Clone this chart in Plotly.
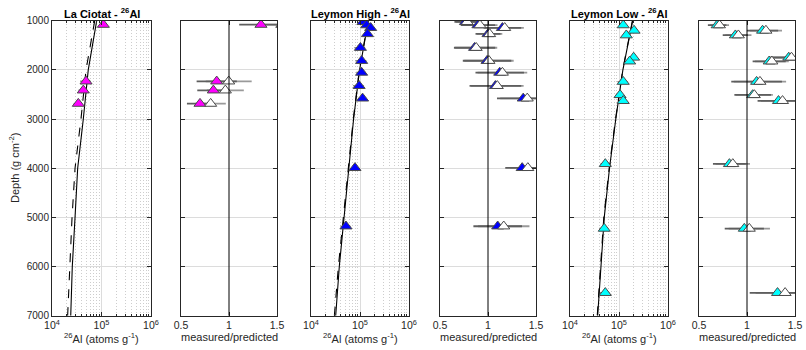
import plotly.graph_objects as go

W, H = 806, 350

# ---------------- data ----------------
depth_grid = [1000, 2000, 3000, 4000, 5000, 6000, 7000]

# La Ciotat
lc_depth = [1081, 2233, 2416, 2687]
lc_conc = [1.09e5, 4.87e4, 4.29e4, 3.40e4]
lc_rel = [0.17, 0.24, 0.20, 0.195]
lc_ratio_a = [1.333, 0.872, 0.837, 0.698]
lc_ratio_b = [1.55, 0.997, 0.962, 0.809]
lc_solid = [8.0e4, 5.4e4, 4.29e4, 3.3e4, 2.92e4, 2.57e4, 2.39e4]
lc_dash = [7.3e4, 4.87e4, 3.85e4, 2.92e4, 2.54e4, 2.27e4, 2.07e4]

# Leymon High
lh_depth = [1025, 1090, 1145, 1270, 1550, 1815, 2055, 2325, 2580, 3994, 5181]
lh_conc = [1.15e5, 1.37e5, 1.65e5, 1.42e5, 1.02e5, 1.08e5, 1.08e5, 9.6e4, 1.13e5, 7.9e4, 5.17e4]
lh_rel = [0.15, 0.20, 0.17, 0.13, 0.25, 0.255, 0.225, 0.25, 0.20, 0.13, 0.23]
lh_ratio_a = [0.765, 0.895, 1.15, 1.0, 0.86, 0.99, 1.122, 1.077, 1.367, 1.356, 1.101]
lh_ratio_b = [0.783, 0.916, 1.174, 1.017, 0.877, 1.01, 1.15, 1.097, 1.409, 1.415, 1.164]
lh_solid = [1.48e5, 9.8e4, 7.4e4, 5.9e4, 4.68e4, 3.78e4, 3.19e4]
lh_dash = [1.46e5, 9.7e4, 7.3e4, 5.8e4, 4.58e4, 3.62e4, 3.0e4]

# Leymon Low
ll_depth = [1090, 1200, 1295, 1748, 1826, 2240, 2510, 2630, 3913, 5228, 6535]
ll_conc = [1.22e5, 2.03e5, 1.41e5, 1.99e5, 1.65e5, 1.22e5, 1.05e5, 1.22e5, 5.25e4, 5.0e4, 5.25e4]
ll_rel = [0.14, 0.14, 0.15, 0.144, 0.14, 0.24, 0.18, 0.164, 0.21, 0.21, 0.22]
ll_ratio_a = [0.689, 1.162, 0.879, 1.435, 1.231, 1.10, 1.059, 1.328, 0.817, 0.972, 1.318]
ll_ratio_b = [0.713, 1.197, 0.91, 1.463, 1.259, 1.135, 1.076, 1.37, 0.852, 1.024, 1.397]
ll_solid = [1.9e5, 1.2e5, 8.6e4, 6.4e4, 5.0e4, 4.3e4, 3.67e4]
ll_dash = [1.88e5, 1.19e5, 8.5e4, 6.3e4, 4.9e4, 4.2e4, 3.6e4]

titles = ["La Ciotat - <sup>26</sup>Al", "Leymon High - <sup>26</sup>Al", "Leymon Low - <sup>26</sup>Al"]
fill_colors = ["#ff00ff", "#0000ff", "#00ffff"]

log_ticks = [1e4, 1e5, 1e6]
log_ticktext = ["10<sup>4</sup>", "10<sup>5</sup>", "10<sup>6</sup>"]
log_minor = [m * 10 ** e for e in (4, 5) for m in range(2, 10)]
ratio_ticks = [0.5, 1, 1.5]
ratio_ticktext = ["0.5", "1", "1.5"]
depth_ticks = [1000, 2000, 3000, 4000, 5000, 6000, 7000]
depth_ticktext = ["1000", "2000", "3000", "4000", "5000", "6000", "7000"]

# ---------------- layout geometry (pixels) ----------------
panels_px = [(52, 151), (181, 277), (311, 409), (440, 536), (570, 668), (699, 795)]
y_top, y_bot = 20.7, 315.7
ydom = [1 - y_bot / H, 1 - y_top / H]

FONT = "Liberation Sans, Arial, Helvetica, sans-serif"
TXT = "#262626"
AX = "#262626"
GRID = "#dcdcdc"
MINOR_GRID = "#cdcdcd"

fig = go.Figure()

sites = [
    (lc_depth, lc_conc, lc_rel, lc_ratio_a, lc_ratio_b, lc_solid, lc_dash),
    (lh_depth, lh_conc, lh_rel, lh_ratio_a, lh_ratio_b, lh_solid, lh_dash),
    (ll_depth, ll_conc, ll_rel, ll_ratio_a, ll_ratio_b, ll_solid, ll_dash),
]

tri = dict(symbol="triangle-up", size=10.5, line=dict(color="#4a4a4a", width=1))

for i, (dep, conc, rel, ra, rb, sol, dsh) in enumerate(sites):
    xa = f"x{2*i+1}" if i > 0 else "x"
    ya = f"y{2*i+1}" if i > 0 else "y"
    xr = f"x{2*i+2}"
    yr = f"y{2*i+2}"
    # model lines
    fig.add_trace(go.Scatter(x=dsh, y=depth_grid, mode="lines", xaxis=xa, yaxis=ya,
                             line=dict(color="black", width=1.1, dash="dash"), showlegend=False))
    fig.add_trace(go.Scatter(x=sol, y=depth_grid, mode="lines", xaxis=xa, yaxis=ya,
                             line=dict(color="black", width=1.1), showlegend=False))
    # measured concentrations
    err = [c * r for c, r in zip(conc, rel)]
    fig.add_trace(go.Scatter(x=conc, y=dep, mode="markers", xaxis=xa, yaxis=ya,
                             marker=dict(color=fill_colors[i], **tri),
                             error_x=dict(type="data", array=err, color="#8a8a8a", thickness=1.5, width=0),
                             showlegend=False))
    # ratio error bars
    ea = [v * r for v, r in zip(ra, rel)]
    eb = [v * r for v, r in zip(rb, rel)]
    fig.add_trace(go.Scatter(x=rb, y=dep, mode="markers", xaxis=xr, yaxis=yr,
                             marker=dict(size=1, color="rgba(0,0,0,0)"),
                             error_x=dict(type="data", array=eb, color="#9a9a9a", thickness=1.8, width=0),
                             showlegend=False))
    fig.add_trace(go.Scatter(x=ra, y=dep, mode="markers", xaxis=xr, yaxis=yr,
                             marker=dict(size=1, color="rgba(0,0,0,0)"),
                             error_x=dict(type="data", array=ea, color="#5e5e5e", thickness=1.8, width=0),
                             showlegend=False))
    fig.add_trace(go.Scatter(x=ra, y=dep, mode="markers", xaxis=xr, yaxis=yr,
                             marker=dict(color=fill_colors[i], **tri), showlegend=False))
    fig.add_trace(go.Scatter(x=rb, y=dep, mode="markers", xaxis=xr, yaxis=yr,
                             marker=dict(color="white", **tri), showlegend=False))
    # reference line at ratio = 1
    fig.add_shape(type="line", xref=xr, yref=f"{yr} domain", x0=1, x1=1, y0=0, y1=1,
                  line=dict(color="black", width=1), layer="above")

layout = dict(
    width=W, height=H, margin=dict(l=0, r=0, t=0, b=0),
    paper_bgcolor="white", plot_bgcolor="white",
    font=dict(family=FONT, color=TXT, size=10),
    showlegend=False,
)

for k, (x0, x1) in enumerate(panels_px):
    n = k + 1
    xkey = "xaxis" if n == 1 else f"xaxis{n}"
    ykey = "yaxis" if n == 1 else f"yaxis{n}"
    anchor_y = "y" if n == 1 else f"y{n}"
    anchor_x = "x" if n == 1 else f"x{n}"
    dom = [x0 / W, x1 / W]
    if k % 2 == 0:
        layout[xkey] = dict(
            type="log", range=[4, 6], domain=dom, anchor=anchor_y,
            showline=True, linecolor=AX, linewidth=1, mirror="ticks",
            ticks="inside", ticklen=4, tickcolor=AX,
            tickmode="array", tickvals=log_ticks, ticktext=log_ticktext,
            showgrid=True, gridcolor=GRID, gridwidth=1, zeroline=False,
            minor=dict(tickmode="array", tickvals=log_minor, ticks="inside", ticklen=2, tickcolor=AX,
                       showgrid=True, gridcolor=MINOR_GRID, griddash="1px,2px", gridwidth=1),
            tickfont=dict(size=10.5, color=TXT), automargin=False,
        )
    else:
        layout[xkey] = dict(
            range=[0.5, 1.5], domain=dom, anchor=anchor_y,
            showline=True, linecolor=AX, linewidth=1, mirror="ticks",
            ticks="inside", ticklen=4, tickcolor=AX,
            tickmode="array", tickvals=ratio_ticks, ticktext=ratio_ticktext,
            showgrid=False, zeroline=False,
            tickfont=dict(size=10.5, color=TXT), automargin=False,
        )
    layout[ykey] = dict(
        range=[7000, 1000], domain=ydom, anchor=anchor_x,
        showline=True, linecolor=AX, linewidth=1, mirror="ticks",
        ticks="inside", ticklen=4, tickcolor=AX,
        tickmode="array", tickvals=depth_ticks,
        ticktext=depth_ticktext if n == 1 else [""] * len(depth_ticks),
        showticklabels=(n == 1),
        showgrid=True, gridcolor=GRID, gridwidth=1, zeroline=False,
        tickfont=dict(size=10, color=TXT), automargin=False,
    )

fig.update_layout(**layout)

annotations = []
for i, t in enumerate(titles):
    x0, x1 = panels_px[2 * i]
    annotations.append(dict(text=f"<b>{t}</b>", x=(x0 + x1) / 2 / W, y=1 - 13 / H,
                            xref="paper", yref="paper", showarrow=False,
                            xanchor="center", yanchor="middle",
                            font=dict(size=11, color="black", family=FONT)))
    annotations.append(dict(text="<sup>26</sup>Al (atoms g<sup>-1</sup>)", x=(x0 + x1) / 2 / W,
                            y=1 - 338 / H, xref="paper", yref="paper", showarrow=False,
                            xanchor="center", yanchor="middle",
                            font=dict(size=11, color=TXT, family=FONT)))
    r0, r1 = panels_px[2 * i + 1]
    annotations.append(dict(text="measured/predicted", x=(r0 + r1) / 2 / W,
                            y=1 - 337 / H, xref="paper", yref="paper", showarrow=False,
                            xanchor="center", yanchor="middle",
                            font=dict(size=11, color=TXT, family=FONT)))
annotations.append(dict(text="Depth (g cm<sup>-2</sup>)", x=14 / W, y=1 - 168 / H,
                        xref="paper", yref="paper", showarrow=False, textangle=-90,
                        xanchor="center", yanchor="middle",
                        font=dict(size=11, color=TXT, family=FONT)))
fig.update_layout(annotations=annotations)

fig.write_html("out.html")
